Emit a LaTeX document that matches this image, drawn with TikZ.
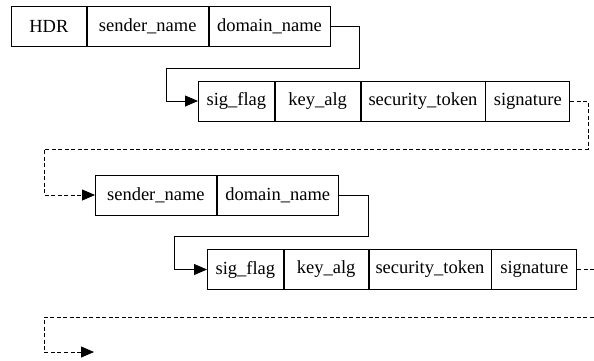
\documentclass[tikz,border=0pt]{standalone}
\usepackage{fontspec}
\setmainfont{Liberation Serif}
\usetikzlibrary{arrows.meta}

\begin{document}
\begin{tikzpicture}[x=1pt,y=-1pt,
  cell/.style={draw=black, line width=0.8pt, inner sep=0pt, minimum height=40pt,
    anchor=west, font=\fontsize{18.5}{22}\selectfont},
  conn/.style={line width=0.8pt, -{Triangle[length=13pt,width=11pt]}},
  link/.style={line width=0.8pt},
  dashlink/.style={line width=0.8pt, dash pattern=on 4pt off 2.5pt}]
  \useasboundingbox (0,0) rectangle (594,360);
  \clip (0,0) rectangle (594,360);

  % first header line
  \node[cell, minimum width=75pt]  (h1) at (11,26.7)  {HDR};
  \node[cell, minimum width=121pt] (n1) at (h1.east)  {sender\_name};
  \node[cell, minimum width=121pt] (d1) at (n1.east)  {domain\_name};

  % first signature line
  \node[cell, minimum width=76pt]  (f2) at (198,101)  {sig\_flag};
  \node[cell, minimum width=85pt]  (k2) at (f2.east)  {key\_alg};
  \node[cell, minimum width=124pt] (t2) at (k2.east)  {security\_token};
  \node[cell, minimum width=84pt]  (g2) at (t2.east)  {signature};

  % second name line
  \node[cell, minimum width=121pt] (n3) at (95,195)   {sender\_name};
  \node[cell, minimum width=121pt] (d3) at (n3.east)  {domain\_name};

  % second signature line
  \node[cell, minimum width=76pt]  (f4) at (207,269.5) {sig\_flag};
  \node[cell, minimum width=84pt]  (k4) at (f4.east)   {key\_alg};
  \node[cell, minimum width=122pt] (t4) at (k4.east)   {security\_token};
  \node[cell, minimum width=85pt]  (g4) at (t4.east)   {signature};

  % loose ends running past the right edge
  \coordinate (out) at (600,269.5);
  \coordinate (back) at (600,317);
  \coordinate (next) at (94,352);

  % connectors
  \draw[conn] (d1.east) -- (359,26.7) |- (166,68) |- (f2.west);
  \draw[conn, dashlink] (g2.east) -- (588,101) |- (44,149) |- (n3.west);
  \draw[conn] (d3.east) -- (368,195) |- (174,236) |- (f4.west);
  \draw[dashlink] (g4.east) -- (out);
  \draw[conn, dashlink] (back) -| (44,352) -- (next);
\end{tikzpicture}
\end{document}
